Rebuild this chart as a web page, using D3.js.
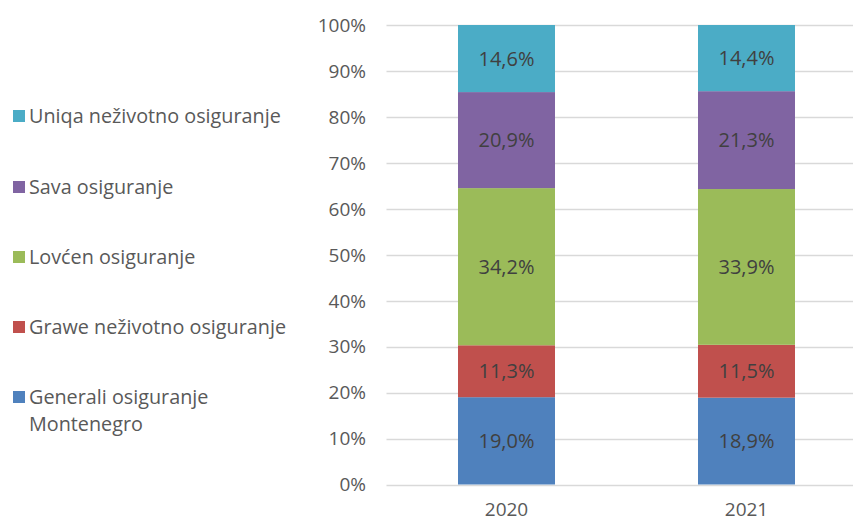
<!DOCTYPE html>
<html><head><meta charset="utf-8">
<script src="https://cdn.jsdelivr.net/npm/d3@7"></script>
<style>body{margin:0;background:#fff}svg{display:block}</style>
</head><body>
<script>
const years = ["2020", "2021"];
const companies = ["Generali osiguranje Montenegro", "Grawe neživotno osiguranje", "Lovćen osiguranje", "Sava osiguranje", "Uniqa neživotno osiguranje"];
const generali = [19.0, 18.9];
const grawe = [11.3, 11.5];
const lovcen = [34.2, 33.9];
const sava = [20.9, 21.3];
const uniqa = [14.6, 14.4];
const yTicks = [0, 10, 20, 30, 40, 50, 60, 70, 80, 90, 100];
const colors = ["#4F81BD", "#C0504D", "#9BBB59", "#8064A2", "#4BACC6"];

const W = 853, H = 523;
const font = "'Open Sans', sans-serif";
const svg = d3.select("body").append("svg").attr("width", W).attr("height", H);

const series = [generali, grawe, lovcen, sava, uniqa];
const rows = years.map((y, i) => {
  const r = {year: y};
  companies.forEach((c, k) => r[c] = series[k][i]);
  return r;
});
const stack = d3.stack().keys(companies)(rows);

const x = d3.scaleBand().domain(years).range([386.5, 866.5]).paddingInner(0).paddingOuter(0);
const y = d3.scaleLinear().domain([0, 100]).range([484.5, 25]);
const bw = 97;

// gridlines
svg.append("g").selectAll("line").data(yTicks).join("line")
  .attr("x1", 386.5).attr("x2", W)
  .attr("y1", d => Math.round(y(d)) + 0.5).attr("y2", d => Math.round(y(d)) + 0.5)
  .attr("stroke", "#d9d9d9").attr("stroke-width", 1.5);

// y labels
svg.append("g").selectAll("text").data(yTicks).join("text")
  .attr("x", 366).attr("y", d => y(d)).attr("dy", "0.36em")
  .attr("text-anchor", "end").attr("font-family", font).attr("font-size", 19)
  .attr("fill", "#595959").text(d => d + "%");

// bars
const fmt = v => v.toFixed(1).replace(".", ",") + "%";
stack.forEach((s, k) => {
  const g = svg.append("g");
  g.selectAll("rect").data(s).join("rect")
    .attr("x", d => x(d.data.year) + x.bandwidth() / 2 - bw / 2)
    .attr("width", bw)
    .attr("y", d => y(d[1]))
    .attr("height", d => y(d[0]) - y(d[1]))
    .attr("fill", colors[k]);
  g.selectAll("text").data(s).join("text")
    .attr("x", d => x(d.data.year) + x.bandwidth() / 2)
    .attr("y", d => (y(d[0]) + y(d[1])) / 2).attr("dy", "0.36em")
    .attr("text-anchor", "middle").attr("font-family", font).attr("font-size", 20)
    .attr("fill", "#404040").text(d => fmt(d[1] - d[0]));
});

// x labels
svg.append("g").selectAll("text").data(years).join("text")
  .attr("x", d => x(d) + x.bandwidth() / 2).attr("y", 516)
  .attr("text-anchor", "middle").attr("font-family", font).attr("font-size", 19)
  .attr("fill", "#595959").text(d => d);

// legend
const legendRows = [
  {k: 4, lines: ["Uniqa neživotno osiguranje"], y: 116},
  {k: 3, lines: ["Sava osiguranje"], y: 187},
  {k: 2, lines: ["Lovćen osiguranje"], y: 257},
  {k: 1, lines: ["Grawe neživotno osiguranje"], y: 327},
  {k: 0, lines: ["Generali osiguranje", "Montenegro"], y: 397}
];
const lg = svg.append("g");
legendRows.forEach(r => {
  lg.append("rect").attr("x", 13).attr("y", r.y - 6).attr("width", 12).attr("height", 12)
    .attr("fill", colors[r.k]);
  r.lines.forEach((l, i) => {
    lg.append("text").attr("x", 29).attr("y", r.y + i * 27).attr("dy", "0.36em")
      .attr("font-family", font).attr("font-size", 19.8).attr("fill", "#595959").text(l);
  });
});
</script>
</body></html>
